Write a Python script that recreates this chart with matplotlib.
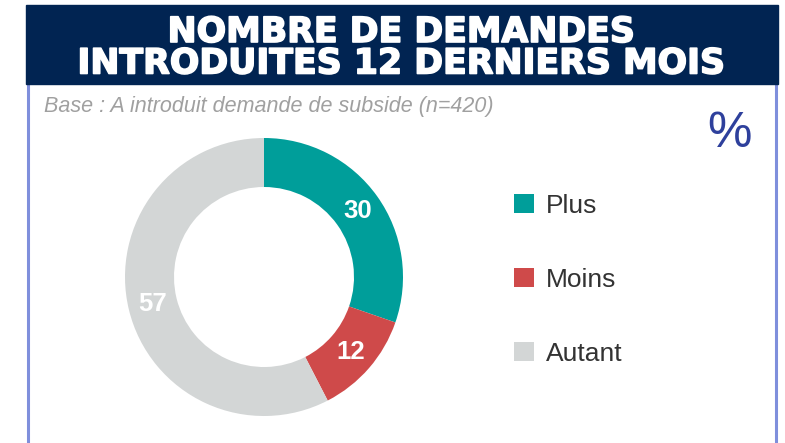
#!/usr/bin/env python3
"""Donut : nombre de demandes introduites les 12 derniers mois (n=420)."""
import numpy as np
import matplotlib.pyplot as plt
import matplotlib.patheffects as pe
from matplotlib.patches import Rectangle

categories = ["Plus", "Moins", "Autant"]
values = [30, 12, 57]
title_lines = ["NOMBRE DE DEMANDES", "INTRODUITES 12 DERNIERS MOIS"]
subtitle = "Base : A introduit demande de subside (n=420)"

COLORS = ["#009E9A", "#CF4A4A", "#D3D6D6"]
NAVY = "#012452"
BORDER = "#7F8FDC"
W, H = 785, 443

fig = plt.figure(figsize=(W / 100, H / 100), dpi=100)
ax = fig.add_axes([0, 0, 1, 1])

# cadre : bandeau de titre + bords latéraux
ax.add_patch(Rectangle((26, 443 - 84), 752, 79, color=NAVY, zorder=2))
ax.plot([28, 28], [0, 443 - 84], color=BORDER, lw=2.2, zorder=1)
ax.plot([776, 776], [0, 443 - 84], color=BORDER, lw=2.2, zorder=1)

for i, line in enumerate(title_lines):
    ax.text(402, 443 - 32 - 31.5 * i, line, color="white", fontsize=25,
            fontweight="bold", family="DejaVu Sans", ha="center", va="center",
            zorder=3, path_effects=[pe.withStroke(linewidth=1.2, foreground="white")])

ax.text(44, 443 - 106, subtitle, color="#A0A0A0", fontsize=15.5, style="italic",
        family="Liberation Sans", ha="left", va="center")
ax.text(729, 443 - 134, "%", color="#2E409C", fontsize=36,
        family="Liberation Sans", ha="center", va="center")

# donut
cx, cy, r_out, r_in = 264, 443 - 277, 139, 90
wedges, _ = ax.pie(values, colors=COLORS, startangle=90, counterclock=False,
                   radius=r_out, center=(cx, cy),
                   wedgeprops=dict(width=r_out - r_in, linewidth=0))

r_lab = (r_out + r_in) / 2
for w, v in zip(wedges, values):
    a = np.deg2rad((w.theta1 + w.theta2) / 2)
    ax.text(cx + r_lab * np.cos(a), cy + r_lab * np.sin(a), str(v),
            color="white", fontsize=18.5, fontweight="bold",
            family="Liberation Sans", ha="center", va="center")

leg = ax.legend(wedges, categories, loc="upper left",
                bbox_to_anchor=(514, 443 - 194), bbox_transform=ax.transData,
                frameon=False, prop=dict(family="Liberation Sans", size=19),
                labelcolor="#333333", handlelength=0.75, handleheight=0.75,
                handletextpad=0.45, labelspacing=1.89, borderpad=0, borderaxespad=0)

ax.set_xlim(0, W)
ax.set_ylim(0, H)
ax.set_aspect("auto")
ax.axis("off")

fig.savefig("out.png", dpi=100, facecolor="white")
